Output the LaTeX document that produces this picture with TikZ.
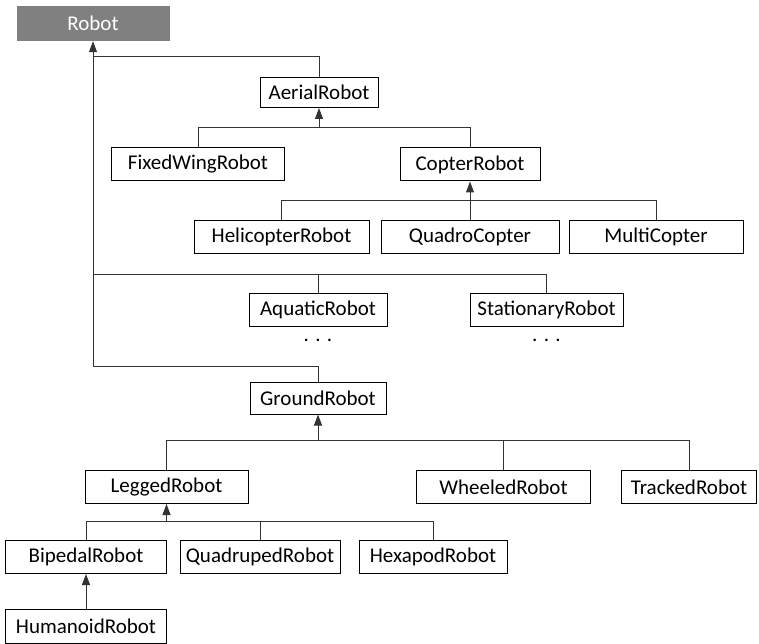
\documentclass[tikz,border=0pt]{standalone}
\usepackage{fontspec}
\setmainfont{Carlito}
\usepackage{tikz}
\usetikzlibrary{arrows.meta}
\tikzset{>={Triangle[width=8pt,length=11pt]}}
\tikzset{cls/.style={draw, line width=1pt, minimum height=33pt, inner sep=0pt},
  root/.style={fill=black!50, text=white, minimum height=35pt, inner sep=0pt},
  link/.style={line width=1pt, black!80}}

\begin{document}
\begin{tikzpicture}[x=1pt, y=1pt, font=\fontsize{21}{24}\selectfont]
  \useasboundingbox (0,0) rectangle (759,-644);
  % classes
  \node[root, minimum width=153pt] (Robot) at (93,-23.5) {Robot};
  \node[cls, minimum width=118pt, minimum height=30pt] (AerialRobot) at (319,-92.5) {AerialRobot};
  \node[cls, minimum width=173pt] (FixedWingRobot) at (198,-164.5) {FixedWingRobot};
  \node[cls, minimum width=140pt] (CopterRobot) at (470,-164.5) {CopterRobot};
  \node[cls, minimum width=175pt] (HelicopterRobot) at (281.5,-237) {HelicopterRobot};
  \node[cls, minimum width=178pt] (QuadroCopter) at (470,-237) {QuadroCopter};
  \node[cls, minimum width=174pt] (MultiCopter) at (656,-237) {MultiCopter};
  \node[cls, minimum width=138pt] (AquaticRobot) at (318,-310) {AquaticRobot};
  \node[cls, minimum width=153pt] (StationaryRobot) at (546.5,-310) {StationaryRobot};
  \node (aquaticdots) at (318,-340) {. . .};
  \node (stationarydots) at (546.5,-340) {. . .};
  \node[cls, minimum width=136pt, minimum height=32pt] (GroundRobot) at (318,-398) {GroundRobot};
  \node[cls, minimum width=163pt] (LeggedRobot) at (166.5,-487) {LeggedRobot};
  \node[cls, minimum width=174pt] (WheeledRobot) at (503.5,-487) {WheeledRobot};
  \node[cls, minimum width=135pt] (TrackedRobot) at (689,-487) {TrackedRobot};
  \node[cls, minimum width=161pt] (BipedalRobot) at (86,-557) {BipedalRobot};
  \node[cls, minimum width=160pt] (QuadrupedRobot) at (260,-557) {QuadrupedRobot};
  \node[cls, minimum width=148pt] (HexapodRobot) at (433,-557) {HexapodRobot};
  \node[cls, minimum width=161pt, minimum height=34pt] (HumanoidRobot) at (86,-626) {HumanoidRobot};
  % buses
  \coordinate (robotbus1) at (93,-57);
  \coordinate (robotbus2) at (93,-274);
  \coordinate (robotbus3) at (93,-366);
  \coordinate (aerialbus) at (319,-128);
  \coordinate (copterbus) at (470,-201);
  \coordinate (groundbus) at (318,-440);
  \coordinate (leggedbus) at (166.5,-521);
  % inheritance
  \draw[link,->] (robotbus3) -- (Robot.south);
  \draw[link] (AerialRobot.north) |- (robotbus1);
  \draw[link] (AquaticRobot.north) |- (robotbus2);
  \draw[link] (StationaryRobot.north) |- (robotbus2);
  \draw[link] (GroundRobot.north) |- (robotbus3);
  \draw[link,->] (aerialbus) -- (AerialRobot.south);
  \draw[link] (FixedWingRobot.north) |- (aerialbus);
  \draw[link] (CopterRobot.north) |- (aerialbus);
  \draw[link,->] (QuadroCopter.north) -- (CopterRobot.south);
  \draw[link] (HelicopterRobot.north) |- (copterbus);
  \draw[link] (MultiCopter.north) |- (copterbus);
  \draw[link,->] (groundbus) -- (GroundRobot.south);
  \draw[link] (LeggedRobot.north) |- (groundbus);
  \draw[link] (WheeledRobot.north) |- (groundbus);
  \draw[link] (TrackedRobot.north) |- (groundbus);
  \draw[link,->] (leggedbus) -- (LeggedRobot.south);
  \draw[link] (BipedalRobot.north) |- (leggedbus);
  \draw[link] (QuadrupedRobot.north) |- (leggedbus);
  \draw[link] (HexapodRobot.north) |- (leggedbus);
  \draw[link,->] (HumanoidRobot.north) -- (BipedalRobot.south);
\end{tikzpicture}
\end{document}
